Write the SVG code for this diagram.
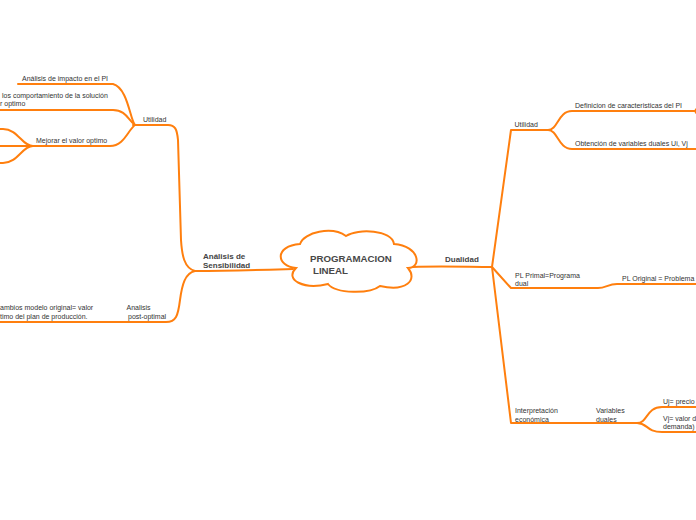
<svg xmlns="http://www.w3.org/2000/svg" width="696" height="520" viewBox="0 0 696 520">
<style>
.c{fill:none;stroke:#ff7f0e;stroke-width:2;stroke-linecap:round;stroke-linejoin:round}
.t{font-family:"Liberation Sans",Arial,sans-serif;font-size:7px;fill:#333}
.b{font-family:"Liberation Sans",Arial,sans-serif;font-size:8px;font-weight:bold;fill:#444}
.m{font-family:"Liberation Sans",Arial,sans-serif;font-size:9.7px;font-weight:bold;fill:#474747}
</style>
<rect width="696" height="520" fill="#fff"/>
<g id="connectors">
<path class="c" d="M293 269 C260 270,230 271,195 271"/>
<path class="c" d="M195 271 C184 268,182 255,181 240 L178 140 C177 129,175 125,168 125 L133 125"/>
<path class="c" d="M195 271 C185 273,182 285,180 300 C178 316,176 322,166 322 L0 322"/>
<path class="c" d="M135 125 C130 120,128 88,113 84 L18 84"/>
<path class="c" d="M135 125 C128 120,126 110,113 110 L0 110"/>
<path class="c" d="M135 125 C128 130,124 146,110 146 L33 146"/>
<path class="c" d="M33 146 C22 146,18 129,3 129 L0 129"/>
<path class="c" d="M33 146 L0 146"/>
<path class="c" d="M33 146 C22 146,18 163,3 163 L0 163"/>
<path class="c" d="M413 267 C440 266,470 267,492 267"/>
<path class="c" d="M492 267 L511 130 L548 130"/>
<path class="c" d="M548 130 C558 130,558 111,572 111 L696 111"/>
<path class="c" d="M548 130 C558 130,558 149,572 149 L696 149"/>
<path class="c" d="M492 267 L511 288 L598 288 C606 288,608 284,617 284 L696 284"/>
<path class="c" d="M492 267 L511 423 L637 423"/>
<path class="c" d="M637 423 C648 423,646 407,662 407 L696 407"/>
<path class="c" d="M637 423 C648 423,646 432,662 432 L696 432"/>
<circle cx="698" cy="111" r="3.5" fill="#ff7f0e"/>
</g>
<g id="root">
<path d="M296 268 C276 266,274 246,300 244 C304 232,332 226,346 236 C358 228,392 230,394 244 C420 246,422 268,408 268 C418 280,406 292,380 286 C370 294,336 294,328 284 C304 290,284 280,296 268 Z" fill="#fff" stroke="#ff7f0e" stroke-width="2"/>
<text class="m" x="310" y="262">PROGRAMACION</text>
<text class="m" x="313" y="274">LINEAL</text>
</g>
<g id="sens"><text class="b" x="203" y="258.5">Análisis de</text><text class="b" x="203" y="267.5">Sensibilidad</text></g>
<g id="util-l"><text class="t" x="143" y="122">Utilidad</text></g>
<g id="impacto"><text class="t" x="22" y="81">Análisis de impacto en el PI</text></g>
<g id="comport"><text class="t" x="2" y="97.5">los comportamiento de la solución</text><text class="t" x="0" y="106">r optimo</text></g>
<g id="mejorar"><text class="t" x="36" y="143.3">Mejorar el valor optimo</text></g>
<g id="post"><text class="t" x="126.5" y="309.5">Analisis</text><text class="t" x="128" y="318.5">post-optimal</text></g>
<g id="cambios"><text class="t" x="0" y="309.5">ambios modelo original= valor</text><text class="t" x="0" y="318.5">timo del plan de producción.</text></g>
<g id="dual"><text class="b" x="445" y="262">Dualidad</text></g>
<g id="util-r"><text class="t" x="514.5" y="127">Utilidad</text></g>
<g id="defin"><text class="t" x="575" y="107.7">Definicion de caracteristicas del PI</text></g>
<g id="obten"><text class="t" x="575" y="146">Obtención de variables duales Ui, Vj</text></g>
<g id="primal"><text class="t" x="515" y="277.5">PL Primal=Programa</text><text class="t" x="515" y="285.5">dual</text></g>
<g id="original"><text class="t" x="622" y="281">PL Original = Problema</text></g>
<g id="interp"><text class="t" x="515" y="413.3">Interpretación</text><text class="t" x="515" y="421.5">económica</text></g>
<g id="vars"><text class="t" x="596" y="413.3">Variables</text><text class="t" x="596" y="421.5">duales</text></g>
<g id="uj"><text class="t" x="663" y="404.3">Uj= precio</text></g>
<g id="vj"><text class="t" x="663" y="421">Vj= valor d</text><text class="t" x="663" y="428.5">demanda)</text></g>
</svg>
